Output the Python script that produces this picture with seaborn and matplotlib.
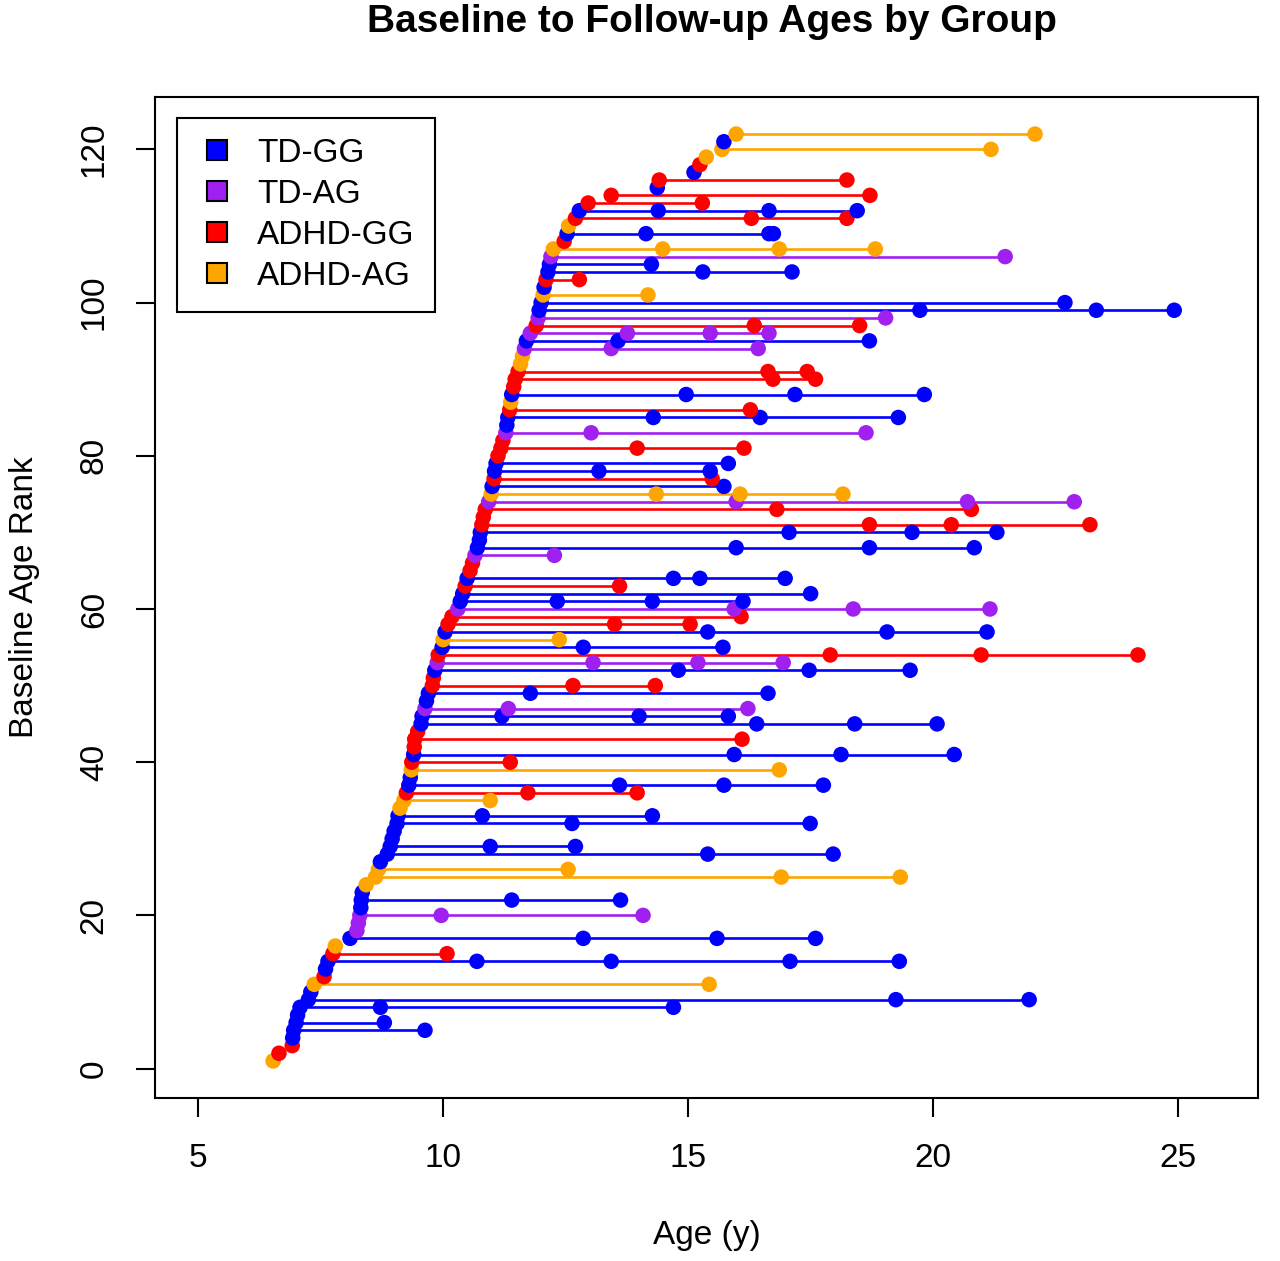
import pandas as pd
import seaborn as sns
import matplotlib.pyplot as plt
from matplotlib.lines import Line2D

# Groups and colours
group_names = ["TD-GG", "TD-AG", "ADHD-GG", "ADHD-AG"]
group_colors = ["#0000FF", "#A020F0", "#FF0000", "#FFA500"]
code_map = {"B": "TD-GG", "P": "TD-AG", "R": "ADHD-GG", "O": "ADHD-AG"}

# Group code for each baseline rank 1..122
group_codes = (
    "ORRBBBBBBB" "ORBBROBPPP" "BBBOOOBBBB" "BBBOORBBOR"
    "BRRRBBPBBR" "RBPRBOBRRP" "BBRBRRPBBB" "RRRPOBRBBR"
    "RRPBBROBRR" "ROOPBPRPBB" "OBRBBPORBO" "RBRRBRBROO"
    "BO"
)

# Baseline age for each rank
baseline_age = [
    6.53, 6.65, 6.92, 6.93, 6.95, 7.00, 7.03, 7.08, 7.25, 7.30,
    7.37, 7.57, 7.60, 7.65, 7.75, 7.80, 8.10, 8.24, 8.27, 8.30,
    8.32, 8.33, 8.35, 8.43, 8.62, 8.68, 8.72, 8.86, 8.92, 8.96,
    9.00, 9.06, 9.08, 9.12, 9.20, 9.25, 9.30, 9.33, 9.35, 9.36,
    9.40, 9.41, 9.42, 9.48, 9.55, 9.57, 9.63, 9.66, 9.70, 9.78,
    9.80, 9.83, 9.88, 9.90, 9.98, 10.00, 10.04, 10.10, 10.18, 10.30,
    10.35, 10.40, 10.45, 10.49, 10.55, 10.60, 10.65, 10.70, 10.74, 10.76,
    10.79, 10.82, 10.86, 10.93, 10.98, 11.00, 11.04, 11.05, 11.08, 11.12,
    11.18, 11.22, 11.28, 11.30, 11.32, 11.36, 11.38, 11.40, 11.44, 11.47,
    11.53, 11.58, 11.62, 11.66, 11.70, 11.78, 11.90, 11.94, 11.96, 12.00,
    12.04, 12.06, 12.10, 12.14, 12.17, 12.20, 12.25, 12.47, 12.53, 12.56,
    12.70, 12.78, 12.96, 13.43, 14.37, 14.41, 15.12, 15.24, 15.37, 15.69,
    15.73, 15.98,
]

# Follow-up ages by rank
followup_ages = {
    5: [9.63], 6: [8.80], 8: [8.72, 14.70], 9: [19.24, 21.96],
    11: [15.43], 14: [10.69, 13.43, 17.08, 19.31], 15: [10.08],
    17: [12.86, 15.59, 17.60], 20: [9.96, 14.08], 22: [11.40, 13.62],
    25: [16.90, 19.33], 26: [12.55], 28: [15.40, 17.96], 29: [10.96, 12.70],
    32: [12.63, 17.49], 33: [10.80, 14.27], 35: [10.96], 36: [11.73, 13.96],
    37: [13.60, 15.73, 17.76], 39: [16.86], 40: [11.37],
    41: [15.94, 18.12, 20.43], 43: [16.10], 45: [16.40, 18.40, 20.08],
    46: [11.20, 14.00, 15.82], 47: [11.33, 16.22], 49: [11.78, 16.63],
    50: [12.65, 14.33], 52: [14.80, 17.47, 19.53], 53: [13.06, 15.20, 16.94],
    54: [17.90, 20.98, 24.18], 55: [12.86, 15.71], 56: [12.37],
    57: [15.40, 19.06, 21.10], 58: [13.50, 15.04], 59: [16.08],
    60: [15.94, 18.37, 21.16], 61: [12.33, 14.27, 16.12], 62: [17.50],
    63: [13.60], 64: [14.70, 15.24, 16.98], 67: [12.27],
    68: [15.98, 18.70, 20.84], 70: [17.06, 19.57, 21.30],
    71: [18.70, 20.37, 23.20], 73: [16.81, 20.78], 74: [15.98, 20.70, 22.88],
    75: [14.35, 16.06, 18.16], 76: [15.73], 77: [15.49], 78: [13.18, 15.45],
    79: [15.82], 81: [13.96, 16.14], 83: [13.02, 18.63],
    85: [14.29, 16.47, 19.29], 86: [16.27], 88: [14.96, 17.18, 19.82],
    90: [16.73, 17.60], 91: [16.63, 17.43], 94: [13.43, 16.43],
    95: [13.57, 18.70], 96: [13.76, 15.45, 16.65], 97: [16.35, 18.50],
    98: [19.03], 99: [19.73, 23.33, 24.92], 100: [22.69], 101: [14.18],
    103: [12.78], 104: [15.30, 17.12], 105: [14.25], 106: [21.47],
    107: [14.48, 16.86, 18.82], 109: [14.14, 16.65, 16.74],
    111: [16.29, 18.24], 112: [14.39, 16.65, 18.45], 113: [15.29],
    114: [18.71], 116: [18.24], 120: [21.18], 122: [22.08],
}

# Long table: one row per visit
rows = []
for i, (code, base) in enumerate(zip(group_codes, baseline_age)):
    rank = i + 1
    for age in [base] + followup_ages.get(rank, []):
        rows.append({"rank": rank, "age": age, "group": code_map[code]})
df = pd.DataFrame(rows)

palette = dict(zip(group_names, group_colors))

plt.rcParams["font.family"] = ["Liberation Sans", "DejaVu Sans"]

fig = plt.figure(figsize=(12.8, 12.61), dpi=100)
ax = fig.add_axes([155 / 1280, 1 - 1098 / 1261, 1103 / 1280, 1001 / 1261])

sns.lineplot(
    data=df, x="age", y="rank", hue="group", units="rank",
    estimator=None, sort=True, palette=palette, hue_order=group_names,
    linewidth=1.9, legend=False, ax=ax,
)
sns.scatterplot(
    data=df, x="age", y="rank", hue="group", palette=palette,
    hue_order=group_names, s=125, linewidth=0, legend=False, ax=ax,
    zorder=3,
)

ax.set_xlim(4.12, 26.63)
ax.set_ylim(-3.84, 126.84)
ax.set_xticks([5, 10, 15, 20, 25])
ax.set_yticks([0, 20, 40, 60, 80, 100, 120])
ax.tick_params(axis="both", labelsize=24, length=13.5, width=1.5, pad=19)
for lab in ax.get_yticklabels():
    lab.set_rotation(90)
    lab.set_verticalalignment("center")
for spine in ax.spines.values():
    spine.set_linewidth(1.5)
    spine.set_color("black")

ax.set_xlabel("Age (y)", fontsize=24, labelpad=33)
ax.set_ylabel("Baseline Age Rank", fontsize=24, labelpad=28)
fig.text(712 / 1280, 1 - 22 / 1261, "Baseline to Follow-up Ages by Group",
         fontsize=28, fontweight="bold", ha="center", va="center")

# Legend
handles = [
    Line2D([], [], marker="s", linestyle="none", markersize=14,
           markerfacecolor=c, markeredgecolor="black", markeredgewidth=1.5)
    for c in group_colors
]
leg = ax.legend(
    handles, group_names, loc="upper left",
    bbox_to_anchor=((177 - 155) / 1103, (1098 - 118) / 1001),
    fontsize=24, frameon=True, fancybox=False, edgecolor="black",
    framealpha=1, borderpad=0.6, labelspacing=0.3, handletextpad=0.6,
    handlelength=1.2, borderaxespad=0,
)
leg.get_frame().set_linewidth(1.5)

plt.savefig("out.png", dpi=100)
plt.close()
